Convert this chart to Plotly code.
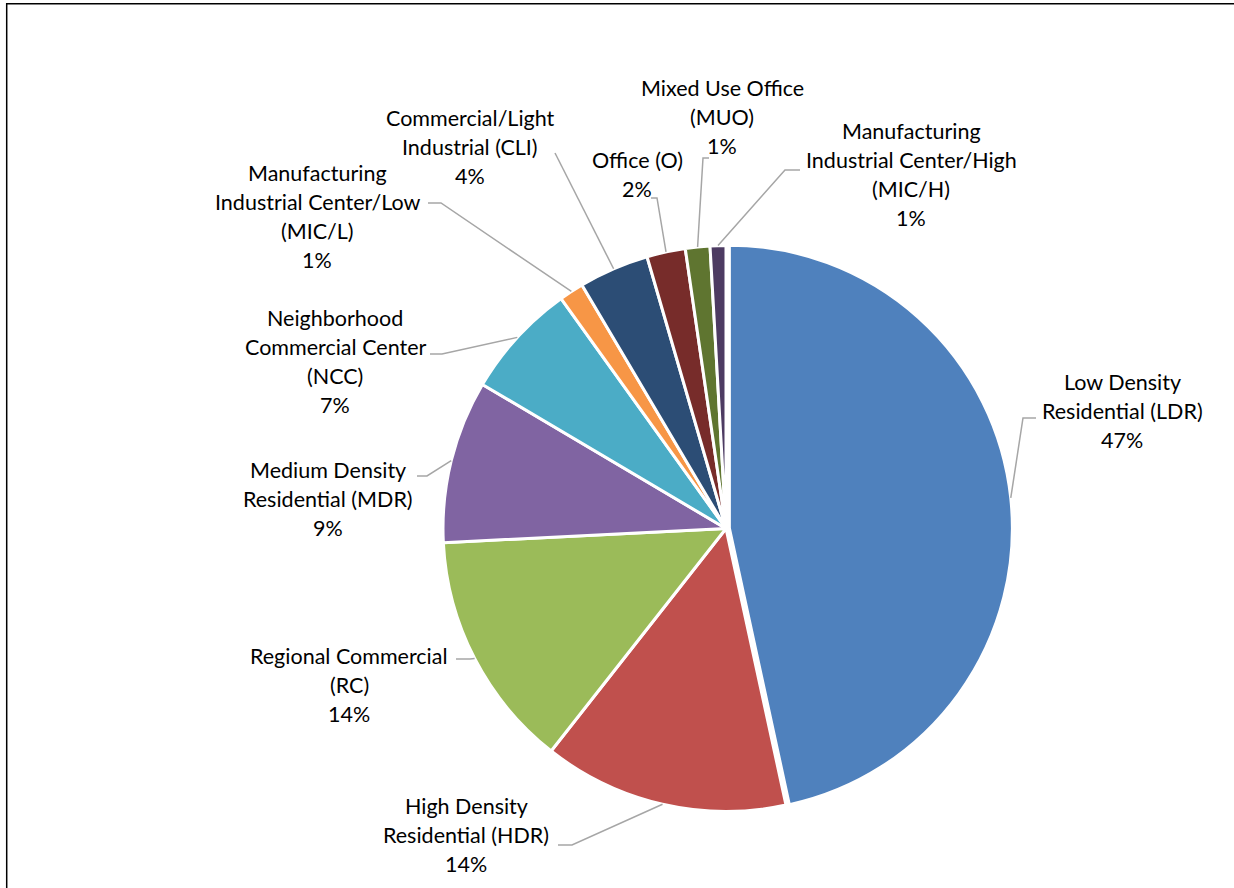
import math
import plotly.graph_objects as go

# Land use share by category, in drawing order (clockwise from 12 o'clock)
categories = [
    "Low Density Residential (LDR)",
    "High Density Residential (HDR)",
    "Regional Commercial (RC)",
    "Medium Density Residential (MDR)",
    "Neighborhood Commercial Center (NCC)",
    "Manufacturing Industrial Center/Low (MIC/L)",
    "Commercial/Light Industrial (CLI)",
    "Office (O)",
    "Mixed Use Office (MUO)",
    "Manufacturing Industrial Center/High (MIC/H)",
]
values = [46.6, 14.0, 13.6, 9.3, 6.6, 1.4, 4.0, 2.2, 1.4, 0.9]
label_lines = [
    ["Low Density", "Residential (LDR)"],
    ["High Density", "Residential (HDR)"],
    ["Regional Commercial", "(RC)"],
    ["Medium Density", "Residential (MDR)"],
    ["Neighborhood", "Commercial Center", "(NCC)"],
    ["Manufacturing", "Industrial Center/Low", "(MIC/L)"],
    ["Commercial/Light", "Industrial (CLI)"],
    ["Office (O)"],
    ["Mixed Use Office", "(MUO)"],
    ["Manufacturing", "Industrial Center/High", "(MIC/H)"],
]
colors = ["#4F81BD", "#C0504D", "#9BBB59", "#8064A2", "#4BACC6",
          "#F79646", "#2C4D75", "#772C2A", "#5F7530", "#4D3B62"]
pulls = [0.012, 0, 0, 0, 0, 0, 0, 0, 0, 0]

# Canvas and pie geometry (pixels)
W, H = 1234, 888
CX, CY, R = 726.0, 528.5, 283.0
FONT = "Lato"
FSIZE = 21.5
LINE_GAP = 29.0

# Label block placement: centre x and y of the first line
label_pos = [
    (1122, 382), (466, 806), (349, 656), (328, 470), (335, 318),
    (317, 173), (470, 118), (637, 160), (722, 88), (911, 131),
]
# Leader line waypoints on the label side; the slice end is added below
leader_pts = [
    [(1036, 418), (1023, 418)],
    [(558, 845), (572, 845)],
    [(456, 659), (470, 659)],
    [(417, 476), (427, 476)],
    [(430, 354), (442, 354)],
    [(428, 203), (441, 203)],
    [(555, 153)],
    [(651, 198), (657, 198)],
    [(709, 158), (703, 158)],
    [(800, 170), (785, 170)],
]


def px(x):
    return x / W


def py(y):
    return 1 - y / H


max_pull = max(pulls)
box = 2 * R * (1 + max_pull)
dom_x = [px(CX - box / 2), px(CX + box / 2)]
dom_y = [py(CY + box / 2), py(CY - box / 2)]

fig = go.Figure(go.Pie(
    labels=categories,
    values=values,
    sort=False,
    direction="clockwise",
    rotation=0,
    pull=pulls,
    marker=dict(colors=colors, line=dict(color="white", width=3)),
    textinfo="none",
    hoverinfo="label+percent",
    showlegend=False,
    domain=dict(x=dom_x, y=dom_y),
))

total = sum(values)
annotations = []
shapes = []
cum = 0.0
for i, v in enumerate(values):
    mid = (cum + v / 2) / total * 2 * math.pi
    cum += v
    rr = R * (1 + pulls[i])
    ex = CX + rr * math.sin(mid)
    ey = CY - rr * math.cos(mid)

    pts = leader_pts[i] + [(ex, ey)]
    path = "M " + " L ".join(f"{px(x):.5f},{py(y):.5f}" for x, y in pts)
    shapes.append(dict(type="path", xref="paper", yref="paper", path=path,
                       line=dict(color="#A6A6A6", width=1.5)))

    pct = f"{round(v / total * 100):d}%"
    lx, ly = label_pos[i]
    for j, line in enumerate(label_lines[i] + [pct]):
        annotations.append(dict(
            x=px(lx), y=py(ly + j * LINE_GAP), xref="paper", yref="paper",
            text=line, showarrow=False, xanchor="center", yanchor="middle",
            font=dict(family=FONT, size=FSIZE, color="#000000"),
        ))

# Chart frame (top and left edges)
shapes.append(dict(type="path", xref="paper", yref="paper",
                   path=f"M {px(6.7)},{py(H + 5)} L {px(6.7)},{py(3.8)} L {px(W + 5)},{py(3.8)}",
                   line=dict(color="#000000", width=1.5)))

fig.update_layout(
    width=W, height=H,
    margin=dict(l=0, r=0, t=0, b=0),
    paper_bgcolor="white", plot_bgcolor="white",
    annotations=annotations, shapes=shapes,
    font=dict(family=FONT),
)

fig.write_html("out.html")
